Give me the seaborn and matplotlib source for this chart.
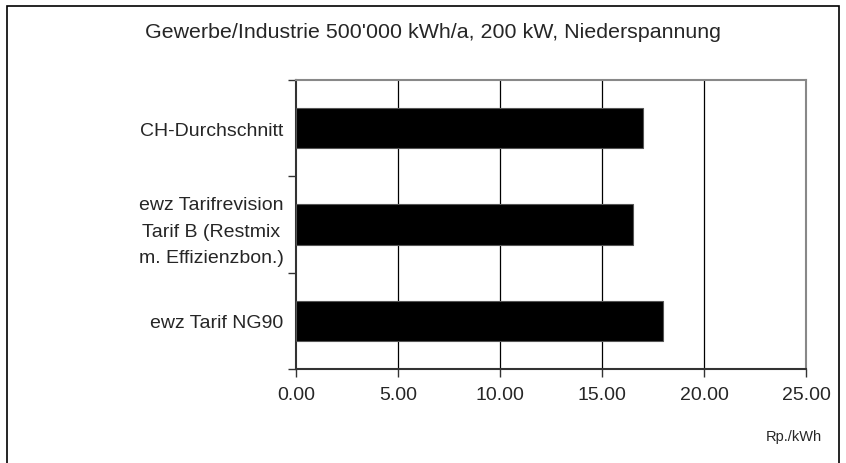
import pandas as pd
import seaborn as sns
import matplotlib.pyplot as plt
from matplotlib.patches import Rectangle

# Werte aus dem Diagramm
categories = ['CH-Durchschnitt',
              'ewz Tarifrevision\nTarif B (Restmix\nm. Effizienzbon.)',
              'ewz Tarif NG90']
values = [17.0, 16.5, 18.0]
xticks = [0, 5, 10, 15, 20, 25]
xtick_labels = ['0.00', '5.00', '10.00', '15.00', '20.00', '25.00']

df = pd.DataFrame({'kategorie': categories, 'wert': values})

sns.set_style('white')
plt.rcParams['font.family'] = ['Liberation Sans', 'DejaVu Sans']

W, H = 846, 464
fig = plt.figure(figsize=(W / 100, H / 100), dpi=100)
ax = fig.add_axes([296 / W, (H - 370) / H, 510 / W, 289 / H])

sns.barplot(data=df, y='kategorie', x='wert', orient='h', color='black',
            width=0.42, edgecolor='#555555', linewidth=0.8, ax=ax, zorder=3)

ax.set_xlim(0, 25)
ax.set_ylim(2.5, -0.5)
ax.set_xticks(xticks)
ax.set_xticklabels(xtick_labels, fontsize=14)
ax.set_yticks([-0.5, 0.5, 1.5, 2.5], minor=False)
ax.set_yticklabels([])
ax.set_yticks([0, 1, 2], minor=True)
ax.set_yticklabels(categories, minor=True, fontsize=14, linespacing=1.7, ha='right')
ax.tick_params(axis='y', which='minor', length=0, pad=9)
ax.tick_params(axis='y', which='major', length=6, width=1, color='#333333', direction='out', left=True)
ax.tick_params(axis='x', length=6, width=1, color='#333333', direction='out', bottom=True, pad=6)
for lab in ax.get_yticklabels(minor=True):
    lab.set_multialignment('center')

for v in xticks[1:-1]:
    ax.axvline(v, color='black', linewidth=0.9, zorder=1)

ax.set_xlabel('')
ax.set_ylabel('')
for side in ['top', 'right']:
    ax.spines[side].set_color('#888888')
    ax.spines[side].set_linewidth(1.5)
for side in ['left', 'bottom']:
    ax.spines[side].set_color('#333333')
    ax.spines[side].set_linewidth(1.5)

fig.text(433 / W, 1 - 33 / H, "Gewerbe/Industrie 500'000 kWh/a, 200 kW, Niederspannung",
         ha='center', va='center', fontsize=15.4)
fig.text(822 / W, 1 - 437 / H, 'Rp./kWh', ha='right', va='center', fontsize=10.5)

# Rahmen um das ganze Diagramm (unten ausserhalb des Bildes)
fig.patches.append(Rectangle((7 / W, -5 / H), 832 / W, 462 / H, transform=fig.transFigure,
                             fill=False, edgecolor='black', linewidth=1.2))

fig.savefig('out.png', dpi=100)
